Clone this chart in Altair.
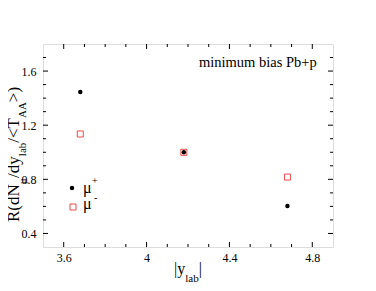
import altair as alt
import pandas as pd

# ---- data ----
x_vals = [3.68, 4.18, 4.68]
mu_plus = [1.445, 1.0, 0.603]
mu_minus = [1.135, 1.0, 0.817]
x_major = [3.6, 4.0, 4.4, 4.8]
x_minor = [3.7, 3.8, 3.9, 4.1, 4.2, 4.3, 4.5, 4.6, 4.7]
y_major = [0.4, 0.8, 1.2, 1.6]
y_minor = [0.5, 0.6, 0.7, 0.9, 1.0, 1.1, 1.3, 1.4, 1.5, 1.7]
annotation = "minimum bias Pb+p"

FONT = "Liberation Serif"
W, H = 290, 203
RED = "#f04848"

# Times advance widths (per 1000 em) for laying out sub/superscript pieces
ADV = {"R": 667, "(": 333, "d": 500, "N": 722, "/": 278, "y": 500, "l": 278,
       "a": 444, "b": 500, "<": 564, "T": 611, "A": 722, ">": 564, ")": 333,
       "|": 200, "μ": 576}


def tw(s, size):
    return sum(ADV.get(c, 500) for c in s) * size / 1000.0


xenc = alt.X("x:Q", scale=alt.Scale(domain=[3.5, 4.9], nice=False, zero=False),
             axis=alt.Axis(values=x_major, format=".1~f", ticks=False, domain=False,
                           grid=False, labelPadding=5, labelFontSize=12, labelFont=FONT,
                           labelColor="black", title=None))
yenc = alt.Y("y:Q", scale=alt.Scale(domain=[0.3, 1.8], nice=False, zero=False),
             axis=alt.Axis(values=y_major, format=".1f", ticks=False, domain=False,
                           grid=False, labelPadding=7, labelFontSize=12, labelFont=FONT,
                           labelColor="black", title=None))

df_minus = pd.DataFrame({"x": x_vals, "y": mu_minus})
df_plus = pd.DataFrame({"x": x_vals, "y": mu_plus})

squares = alt.Chart(df_minus).mark_point(shape="square", filled=False, color=RED,
                                         size=36, strokeWidth=1, opacity=1).encode(x=xenc, y=yenc)
dots = alt.Chart(df_plus).mark_point(shape="circle", filled=True, color="black",
                                     size=20, opacity=1).encode(x=xenc, y=yenc)

layers = [squares, dots]

# inward ticks on all four sides
for vals, ln in ((x_major, 5), (x_minor, 3)):
    d = pd.DataFrame({"x": vals})
    layers.append(alt.Chart(d).mark_rule(color="black").encode(
        x=xenc, y=alt.value(H), y2=alt.value(H - ln)))
    layers.append(alt.Chart(d).mark_rule(color="black").encode(
        x=xenc, y=alt.value(0), y2=alt.value(ln)))
for vals, ln in ((y_major, 5), (y_minor, 3)):
    d = pd.DataFrame({"y": vals})
    layers.append(alt.Chart(d).mark_rule(color="black").encode(
        y=yenc, x=alt.value(0), x2=alt.value(ln)))
    layers.append(alt.Chart(d).mark_rule(color="black").encode(
        y=yenc, x=alt.value(W), x2=alt.value(W - ln)))

one = pd.DataFrame({"k": [0]})


def label(text, px, py, size, angle=0, align="left", color="black"):
    kw = dict(text=text, font=FONT, fontSize=size, align=align,
              baseline="alphabetic", color=color)
    if angle:
        kw["angle"] = angle
    return alt.Chart(one).mark_text(**kw).encode(x=alt.value(px), y=alt.value(py))


# y-axis title with subscripts, rotated
MAIN, SUB = 17, 11
pieces = [("R(dN", False), ("μ", True), ("/dy", False), ("lab", True),
          ("/<T", False), ("AA", True), (">)", False)]
py = 178.0
for txt, sub in pieces:
    size = SUB if sub else MAIN
    layers.append(label(txt, -17 if sub else -24, py, size, angle=270))
    py -= tw(txt, size)

# x-axis title with subscript
MAINX = 16
px = 131.0
for txt, sub in [("|y", False), ("lab", True), ("|", False)]:
    size = SUB if sub else MAINX
    layers.append(label(txt, px, 238 if sub else 230, size))
    px += tw(txt, size)

# annotation
layers.append(label(annotation, 156, 23, 14.5))

# legend
layers.append(alt.Chart(one).mark_point(shape="circle", filled=True, color="black",
                                        size=20, opacity=1).encode(x=alt.value(29), y=alt.value(144)))
layers.append(label("μ", 40, 149, 16))
layers.append(label("+", 49, 140, 10))
layers.append(alt.Chart(one).mark_point(shape="square", filled=False, color=RED,
                                        size=36, strokeWidth=1, opacity=1).encode(x=alt.value(30), y=alt.value(163)))
layers.append(label("μ", 40, 165, 16))
layers.append(label("-", 51, 157, 10))

chart = alt.layer(*layers).properties(
    width=W, height=H,
    padding={"left": 35, "top": 36, "right": 30, "bottom": 36},
    autosize=alt.AutoSizeParams(type="none"),
).configure_view(stroke="black", strokeWidth=1).configure(background="white")

chart.save("out.html", embed_options={"renderer": "svg", "actions": False})
